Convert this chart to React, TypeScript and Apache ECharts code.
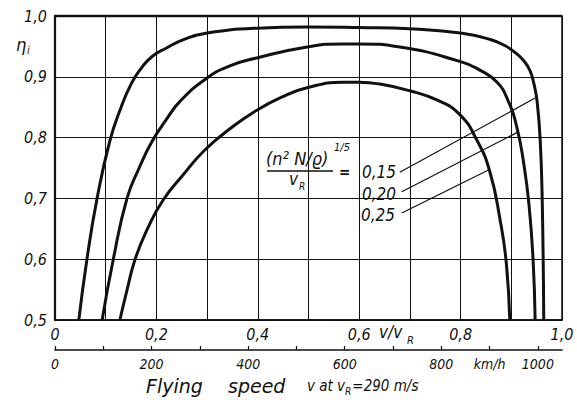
import React, { useEffect, useRef } from "react";
import * as echarts from "echarts";

// v/vR and efficiency values for the three curves
const ratio015 = [0.047, 0.063, 0.083, 0.108, 0.13, 0.15, 0.17, 0.191, 0.219, 0.256, 0.3, 0.398, 0.497, 0.6, 0.7, 0.8, 0.86, 0.888, 0.909, 0.925, 0.937, 0.945, 0.951, 0.957, 0.961, 0.964];
const eta015 = [0.5, 0.6, 0.7, 0.794, 0.849, 0.888, 0.914, 0.933, 0.947, 0.962, 0.972, 0.98, 0.982, 0.981, 0.979, 0.972, 0.961, 0.951, 0.939, 0.926, 0.91, 0.887, 0.859, 0.796, 0.697, 0.5];

const ratio020 = [0.093, 0.115, 0.142, 0.166, 0.191, 0.219, 0.247, 0.3, 0.345, 0.398, 0.497, 0.568, 0.6, 0.68, 0.8, 0.838, 0.872, 0.893, 0.911, 0.925, 0.935, 0.943, 0.947];
const eta020 = [0.5, 0.6, 0.7, 0.75, 0.793, 0.829, 0.86, 0.898, 0.918, 0.931, 0.949, 0.954, 0.954, 0.949, 0.925, 0.911, 0.891, 0.862, 0.817, 0.755, 0.689, 0.599, 0.5];

const ratio025 = [0.128, 0.142, 0.158, 0.183, 0.213, 0.252, 0.296, 0.349, 0.398, 0.448, 0.497, 0.568, 0.6, 0.641, 0.7, 0.753, 0.797, 0.832, 0.858, 0.878, 0.89, 0.897];
const eta025 = [0.5, 0.549, 0.6, 0.651, 0.697, 0.738, 0.78, 0.817, 0.845, 0.867, 0.882, 0.891, 0.891, 0.888, 0.877, 0.862, 0.839, 0.796, 0.743, 0.664, 0.595, 0.5];

// leader lines from the parameter labels to the curves (v/vR, eta)
const leader015 = [[0.68, 0.743], [0.947, 0.865]];
const leader020 = [[0.684, 0.711], [0.913, 0.809]];
const leader025 = [[0.684, 0.676], [0.856, 0.747]];

const paramLabels = ["0,15", "0,20", "0,25"];
const yTicks = [0.5, 0.6, 0.7, 0.8, 0.9, 1.0];
const speedMaxKmh = 1050;

const FONT = "'Liberation Sans Narrow', 'DejaVu Sans Condensed', 'Liberation Sans', sans-serif";
const INK = "#111";

const pairs = (xs: number[], ys: number[]) => xs.map((x, i) => [x, ys[i]]);
const comma = (v: number) => v.toFixed(1).replace(".", ",");

export default function App() {
  const ref = useRef<HTMLDivElement>(null);
  useEffect(() => {
    if (!ref.current) return;
    const chart = echarts.init(ref.current, undefined, { renderer: "svg" });
    const ctx = document.createElement("canvas").getContext("2d");
    const measure = (text: string, font: string) => {
      if (!ctx) return text.length * 7;
      ctx.font = font;
      return ctx.measureText(text).width;
    };
    const curve = (name: string, xs: number[], ys: number[]) => ({
      type: "line",
      name,
      data: pairs(xs, ys),
      smooth: 0.5,
      showSymbol: false,
      lineStyle: { color: INK, width: 3 },
      xAxisIndex: 0,
      yAxisIndex: 0,
      z: 5,
    });
    const leader = (d: number[][]) => ({
      type: "line",
      data: d,
      showSymbol: false,
      lineStyle: { color: INK, width: 1.2 },
      xAxisIndex: 0,
      yAxisIndex: 0,
      z: 4,
    });
    const fontOf = (size: number, family: string = FONT) => `italic ${size}px ${family}`;
    const txt = (text: string, x: number, y: number, size: number, family: string = FONT) => ({
      type: "text",
      x,
      y,
      style: {
        text,
        font: fontOf(size, family),
        fill: INK,
        textVerticalAlign: "middle",
      },
    });
    // subtitle pieces laid out by measured widths
    const subX0 = 307;
    const s1 = "v at v";
    const s2 = "R";
    const s3 = "=290 m/s";
    const w1 = measure(s1, fontOf(15));
    const w2 = measure(s2, fontOf(10));
    chart.setOption({
      animation: false,
      backgroundColor: "#fff",
      grid: {
        left: 55,
        right: 15,
        top: 16,
        bottom: 80,
        show: true,
        borderColor: INK,
        borderWidth: 1.5,
        containLabel: false,
      },
      xAxis: [
        {
          type: "value",
          min: 0,
          max: 1,
          interval: 0.1,
          axisLine: { show: true, lineStyle: { color: INK, width: 1.5 } },
          axisTick: { show: false },
          splitLine: { show: true, lineStyle: { color: INK, width: 1 } },
          axisLabel: {
            margin: 6,
            color: INK,
            fontSize: 16,
            fontStyle: "italic",
            fontFamily: FONT,
            showMinLabel: true,
            showMaxLabel: true,
            formatter: (v: number) => {
              const k = Math.round(v * 10);
              if (k === 0) return "0";
              return k % 2 === 0 ? comma(v) : "";
            },
          },
        },
        {
          type: "value",
          position: "bottom",
          offset: 30,
          min: 0,
          max: speedMaxKmh,
          interval: 100,
          axisLine: { show: true, onZero: false, lineStyle: { color: INK, width: 1.6 } },
          axisTick: { show: true, inside: true, length: 4, lineStyle: { color: INK, width: 1.2 } },
          splitLine: { show: false },
          axisLabel: {
            margin: 7,
            color: INK,
            fontSize: 14,
            fontStyle: "italic",
            fontFamily: FONT,
            showMaxLabel: false,
            formatter: (v: number) => {
              if (v === 900) return "km/h";
              return v % 200 === 0 ? String(v) : "";
            },
          },
        },
      ],
      yAxis: {
        type: "value",
        min: 0.5,
        max: 1.0,
        interval: 0.1,
        axisLine: { show: true, lineStyle: { color: INK, width: 2.2 } },
        axisTick: { show: false },
        splitLine: { show: true, lineStyle: { color: INK, width: 1 } },
        axisLabel: {
          margin: 8,
          color: INK,
          fontSize: 16,
          fontStyle: "italic",
          fontFamily: FONT,
          formatter: (v: number) => (yTicks.some((t) => Math.abs(t - v) < 1e-6) ? comma(v) : ""),
        },
      },
      series: [
        curve("0,15", ratio015, eta015),
        curve("0,20", ratio020, eta020),
        curve("0,25", ratio025, eta025),
        leader(leader015),
        leader(leader020),
        leader(leader025),
      ],
      graphic: [
        // top border emphasis
        { type: "line", shape: { x1: 54, y1: 16, x2: 562, y2: 16 }, style: { stroke: INK, lineWidth: 2.4 }, z: 10 },
        // eta_i
        txt("η", 16, 44, 18),
        txt("i", 27, 50, 11),
        // v/vR axis name
        txt("v/v", 379, 332, 17),
        txt("R", 407, 340, 11),
        // formula
        txt("(n² N/ϱ)", 266, 158, 18),
        txt("1/5", 334, 147, 11),
        { type: "line", shape: { x1: 267, y1: 171, x2: 333, y2: 171 }, style: { stroke: INK, lineWidth: 1.6 } },
        txt("v", 289, 179, 17),
        txt("R", 299, 186, 10),
        { type: "text", x: 339, y: 172, style: { text: "=", font: `bold 15px ${FONT}`, fill: INK, textVerticalAlign: "middle" } },
        txt(paramLabels[0], 362, 172, 17),
        txt(paramLabels[1], 362, 194, 17),
        txt(paramLabels[2], 361, 215, 17),
        // title
        txt("Flying", 146, 386, 19, "'DejaVu Sans', sans-serif"),
        txt("speed", 228, 386, 19, "'DejaVu Sans', sans-serif"),
        txt(s1, subX0, 386, 15),
        txt(s2, subX0 + w1, 391, 10),
        txt(s3, subX0 + w1 + w2 + 1, 386, 15),
      ],
    });
    return () => chart.dispose();
  }, []);
  return <div ref={ref} style={{ position: "absolute", left: 0, top: 0, width: 577, height: 400 }} />;
}
